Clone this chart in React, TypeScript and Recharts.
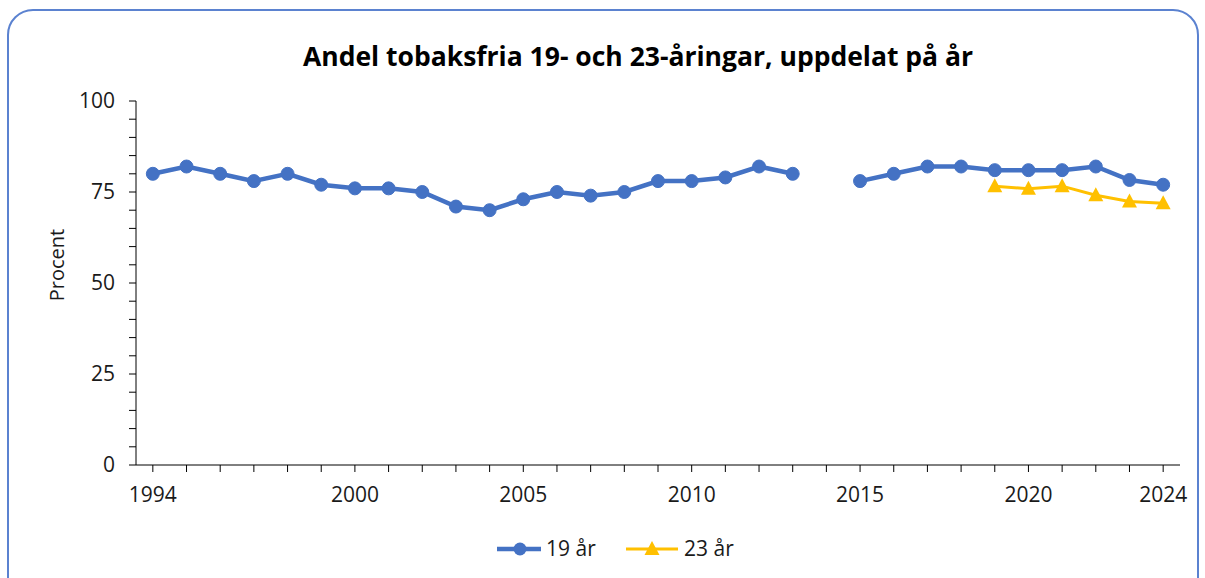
import { LineChart, Line, XAxis, YAxis } from 'recharts';

const years = [
  1994, 1995, 1996, 1997, 1998, 1999, 2000, 2001, 2002, 2003, 2004,
  2005, 2006, 2007, 2008, 2009, 2010, 2011, 2012, 2013, 2014, 2015,
  2016, 2017, 2018, 2019, 2020, 2021, 2022, 2023, 2024,
];
const age19 = [
  80, 82, 80, 78, 80, 77, 76, 76, 75, 71, 70,
  73, 75, 74, 75, 78, 78, 79, 82, 80, null, 78,
  80, 82, 82, 81, 81, 81, 82, 78.3, 77,
];
const age23 = [
  null, null, null, null, null, null, null, null, null, null, null,
  null, null, null, null, null, null, null, null, null, null, null,
  null, null, null, 76.6, 75.9, 76.6, 74.1, 72.4, 71.9,
];
const labeledYears = [1994, 2000, 2005, 2010, 2015, 2020, 2024];
const yTicks = [0, 5, 10, 15, 20, 25, 30, 35, 40, 45, 50, 55, 60, 65, 70, 75, 80, 85, 90, 95, 100];
const yLabeled = [0, 25, 50, 75, 100];

const data = years.map((year, i) => ({ year, a19: age19[i], a23: age23[i] }));

const FONT = '"Open Sans", sans-serif';
const BLUE = '#4472C4';
const GOLD = '#FFC000';
const TXT = '#1a1a1a';

const XTick = (props: any) => {
  const { x, y, payload } = props;
  if (!labeledYears.includes(payload.value)) return <g />;
  return (
    <text x={x} y={y} dy="0.71em" textAnchor="middle" fontFamily={FONT} fontSize={21} fill={TXT}>
      {payload.value}
    </text>
  );
};

const YTick = (props: any) => {
  const { x, y, payload } = props;
  if (!yLabeled.includes(payload.value)) return <g />;
  return (
    <text x={x} y={y} dy="0.355em" textAnchor="end" fontFamily={FONT} fontSize={21} fill={TXT}>
      {payload.value}
    </text>
  );
};

const Triangle = (props: any) => {
  const { cx, cy, index, value } = props;
  if (value == null || cx == null || cy == null) return <g key={`t-${index}`} />;
  return (
    <polygon
      key={`t-${index}`}
      points={`${cx},${cy - 8} ${cx - 7.5},${cy + 6} ${cx + 7.5},${cy + 6}`}
      fill={GOLD}
    />
  );
};

export default function App() {
  return (
    <div style={{ position: 'absolute', left: 0, top: 0, width: 1205, height: 578, overflow: 'hidden', background: '#fff' }}>
      <div
        style={{
          position: 'absolute', left: 7, top: 9, width: 1188, height: 620,
          border: '2px solid #5b82d0', borderRadius: 26,
        }}
      />
      <div
        style={{
          position: 'absolute', left: 0, top: 38, width: 1276, textAlign: 'center',
          fontFamily: FONT, fontWeight: 700, fontSize: 26.5, color: '#000',
        }}
      >
        Andel tobaksfria 19- och 23-åringar, uppdelat på år
      </div>
      <div style={{ position: 'absolute', left: 0, top: 0 }}>
        <LineChart width={1205} height={578} data={data} margin={{ top: 101, right: 25, bottom: 63, left: 76 }}>
          <XAxis
            dataKey="year"
            type="number"
            domain={[1993.5, 2024.5]}
            ticks={years}
            interval={0}
            tick={<XTick />}
            tickSize={7}
            tickMargin={15}
            height={50}
            stroke="#000"
            allowDataOverflow
          />
          <YAxis
            domain={[0, 100]}
            ticks={yTicks}
            interval={0}
            tick={<YTick />}
            tickSize={7}
            tickMargin={14}
            width={60}
            stroke="#000"
            label={{
              content: () => (
                <text x={57} y={265} transform="rotate(-90 57 265)" textAnchor="middle" dy="0.355em" fontFamily={FONT} fontSize={20} fill={TXT}>
                  Procent
                </text>
              ),
            }}
          />
          <Line
            dataKey="a19"
            stroke={BLUE}
            strokeWidth={4.5}
            dot={{ r: 6.5, fill: BLUE, stroke: BLUE, strokeWidth: 1 }}
            connectNulls={false}
            isAnimationActive={false}
          />
          <Line
            dataKey="a23"
            stroke={GOLD}
            strokeWidth={3}
            dot={Triangle}
            connectNulls={false}
            isAnimationActive={false}
          />
        </LineChart>
      </div>
      <svg style={{ position: 'absolute', left: 480, top: 530 }} width={300} height={40}>
        <line x1={17} y1={19} x2={61} y2={19} stroke={BLUE} strokeWidth={4.5} />
        <circle cx={40} cy={19} r={6.5} fill={BLUE} />
        <text x={66} y={19} dy="0.355em" fontFamily={FONT} fontSize={21} fill={TXT}>19 år</text>
        <line x1={146} y1={19} x2={198} y2={19} stroke={GOLD} strokeWidth={3} />
        <polygon points="172,11 164.5,25 179.5,25" fill={GOLD} />
        <text x={204} y={19} dy="0.355em" fontFamily={FONT} fontSize={21} fill={TXT}>23 år</text>
      </svg>
    </div>
  );
}
